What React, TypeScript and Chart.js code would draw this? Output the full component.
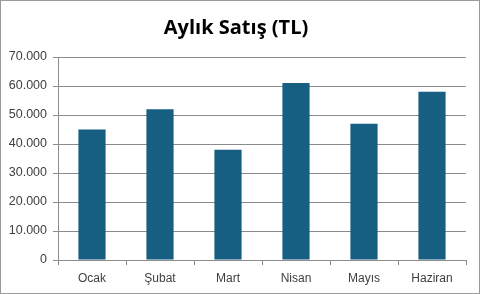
import React, { useEffect, useRef } from "react";
import { Chart, registerables } from "chart.js";

Chart.register(...registerables);

const categories = ["Ocak", "Şubat", "Mart", "Nisan", "Mayıs", "Haziran"];
const salesValues = [45000, 52000, 38000, 61000, 47000, 58000];
const chartTitle = "Aylık Satış (TL)";
const yMax = 70000;
const yStep = 10000;

const borderPlugin = {
  id: "outerBorder",
  afterDraw(chart: any) {
    const ctx = chart.ctx;
    ctx.save();
    ctx.strokeStyle = "#9a9a9a";
    ctx.lineWidth = 1;
    ctx.strokeRect(0.5, 0.5, chart.width - 1, chart.height - 1);
    ctx.restore();
  },
};

export default function App() {
  const ref = useRef<HTMLCanvasElement>(null);
  useEffect(() => {
    document.body.style.margin = "0";
    const fmt = new Intl.NumberFormat("tr-TR");
    const chart = new Chart(ref.current!, {
      type: "bar",
      data: {
        labels: categories,
        datasets: [
          {
            label: "Satış",
            data: salesValues,
            backgroundColor: "#165F82",
            categoryPercentage: 1,
            barPercentage: 0.4,
          },
        ],
      },
      options: {
        responsive: false,
        animation: false,
        layout: { padding: { left: 6, right: 14, top: 0, bottom: 0 } },
        plugins: {
          legend: { display: false },
          tooltip: { enabled: false },
          title: {
            display: true,
            text: chartTitle,
            color: "#000000",
            font: { family: "Open Sans", size: 20, weight: "bold" },
            padding: { top: 16, bottom: 17 },
          },
        },
        scales: {
          x: {
            grid: {
              display: true,
              drawOnChartArea: false,
              drawTicks: true,
              tickLength: 5,
              offset: true,
              color: "#8c8c8c",
            },
            border: { color: "#8c8c8c" },
            ticks: {
              color: "#404040",
              font: { family: "Liberation Sans", size: 12 },
              padding: 6,
            },
            afterFit(scale: any) {
              scale.height = 34;
            },
          },
          y: {
            min: 0,
            max: yMax,
            ticks: {
              stepSize: yStep,
              color: "#404040",
              font: { family: "Liberation Sans", size: 12.5 },
              padding: 6,
              callback: (v: any) => fmt.format(Number(v)),
            },
            grid: { color: "#8c8c8c", tickLength: 5 },
            border: { color: "#8c8c8c" },
            afterFit(scale: any) {
              scale.width = 52;
            },
          },
        },
      },
      plugins: [borderPlugin],
    });
    return () => chart.destroy();
  }, []);
  return <canvas ref={ref} width={480} height={294} style={{ display: "block" }} />;
}
